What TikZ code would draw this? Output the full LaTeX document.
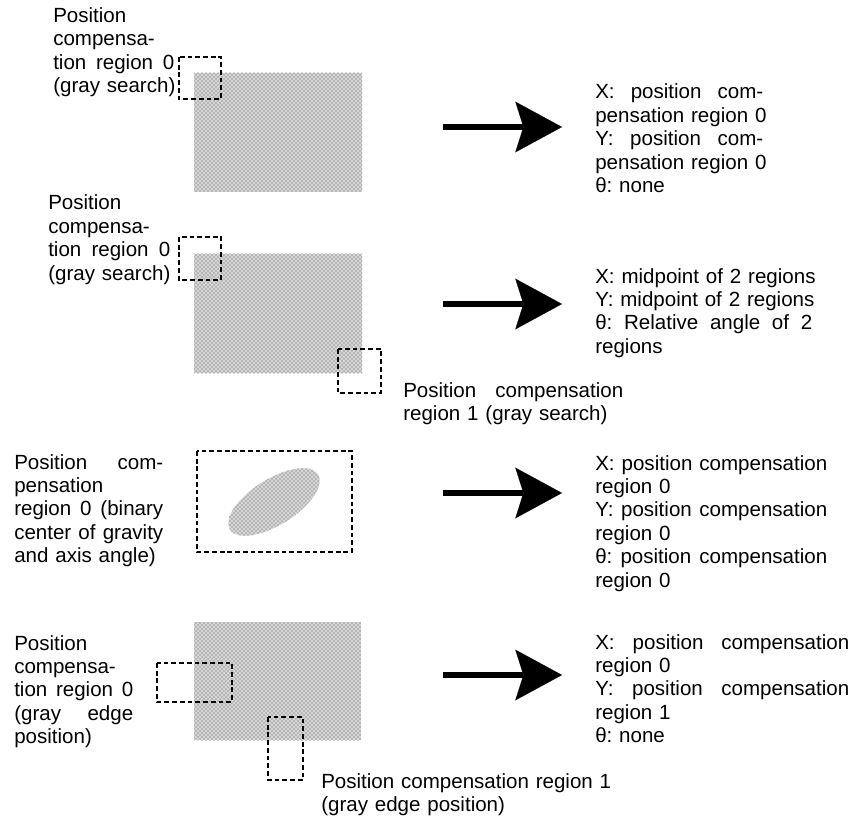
\documentclass[tikz,border=0pt]{standalone}
\usepackage{fontspec}
\setmainfont{Liberation Sans}
\usepackage{tikz}
\usetikzlibrary{arrows.meta,patterns}
\newcommand\jst[1]{\makebox[\cw][s]{\spaceskip=.278em plus 1fil\relax #1}}
\newcommand\cw{100pt}

\begin{document}
\begin{tikzpicture}[x=0.75pt,y=-0.75pt,
  txt/.style={anchor=base west,inner sep=0pt,font=\fontsize{15.4}{17.55}\selectfont\frenchspacing},
  col/.code={\gdef\cw{#1}},
  dbox/.style={draw,line width=1.6pt,dash pattern=on 3.6pt off 2.2pt},
  halftone/.style={fill=black!16,postaction={pattern=crosshatch dots,pattern color=black!70}},
  fat/.style={line width=5pt,-{Stealth[length=35pt,width=38pt,inset=6pt,line width=0.1pt]}}]
  \useasboundingbox (0,0) rectangle (855,823);

  % one search region
  \fill[halftone] (194,73) rectangle (362,192);
  \draw[dbox] (179,57) rectangle (221,99);
  \node[txt,col=90.75pt,text width=110pt] (L1) at (53,22.5) {Position\\compensa-\\\jst{tion region 0}\\(gray search)};
  \coordinate (S1) at (443,127);
  \coordinate (E1) at (562,127);
  \draw[fat] (S1) -- (E1);
  \node[txt,col=126pt,text width=145pt] (R1) at (595,99) {\jst{X: position com-}\\pensation region 0\\\jst{Y: position com-}\\pensation region 0\\θ: none};

  % two search regions
  \fill[halftone] (194,254) rectangle (362,373);
  \draw[dbox] (179,237) rectangle (221,280);
  \draw[dbox] (338,349) rectangle (381,393);
  \node[txt,col=91.5pt,text width=110pt] (L2) at (48,210) {Position\\compensa-\\\jst{tion region 0}\\(gray search)};
  \node[txt,col=165pt,text width=185pt] (B2) at (403,397) {\jst{Position compensation}\\region 1 (gray search)};
  \coordinate (S2) at (443,304);
  \coordinate (E2) at (562,304);
  \draw[fat] (S2) -- (E2);
  \node[txt,col=162.75pt,text width=185pt] (R2) at (595,283) {X: midpoint of 2 regions\\Y: midpoint of 2 regions\\\jst{θ: Relative angle of 2}\\regions};

  % binary blob
  \draw[dbox] (197,451) rectangle (352,552);
  \fill[halftone,rotate around={32:(274,502)}] (274,502) ellipse [x radius=52,y radius=23];
  \node[txt,col=111.75pt,text width=130pt] (L3) at (14,469) {\jst{Position com-}\\pensation\\\jst{region 0 (binary}\\\jst{center of gravity}\\and axis angle)};
  \coordinate (S3) at (443,493);
  \coordinate (E3) at (562,493);
  \draw[fat] (S3) -- (E3);
  \node[txt,col=174pt,text width=195pt] (R3) at (595,470) {\jst{X: position compensation}\\region 0\\\jst{Y: position compensation}\\region 0\\\jst{θ: position compensation}\\region 0};

  % two edge regions
  \fill[halftone] (194,622) rectangle (361,740);
  \draw[dbox] (157,663) rectangle (232,702);
  \draw[dbox] (268,717) rectangle (303,780);
  \node[txt,col=89.25pt,text width=110pt] (L4) at (14,650) {Position\\compensa-\\\jst{tion region 0}\\\jst{(gray edge}\\position)};
  \node[txt,col=225pt,text width=240pt] (B4) at (321,788) {Position compensation region 1\\(gray edge position)};
  \coordinate (S4) at (443,675);
  \coordinate (E4) at (562,675);
  \draw[fat] (S4) -- (E4);
  \node[txt,col=190.5pt,text width=200pt] (R4) at (595,649) {\jst{X: position compensation}\\region 0\\\jst{Y: position compensation}\\region 1\\θ: none};
\end{tikzpicture}
\end{document}
